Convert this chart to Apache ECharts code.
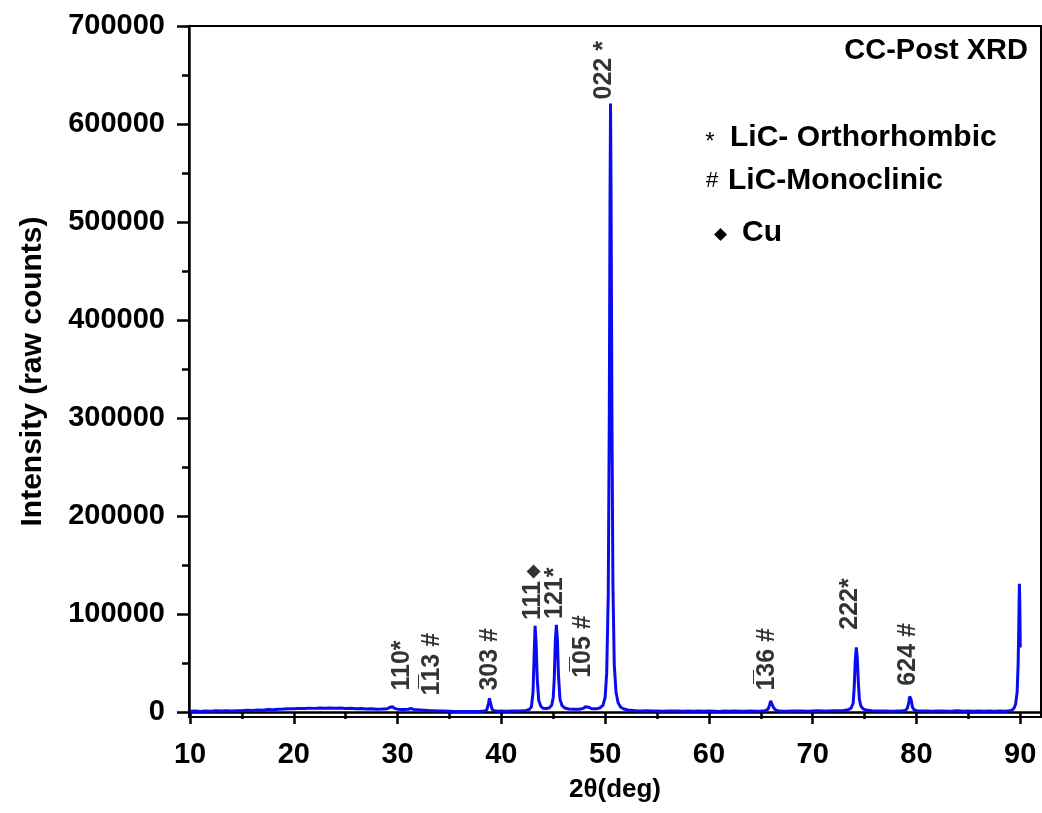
<!DOCTYPE html>
<html>
<head>
<meta charset="utf-8">
<script src="https://cdn.jsdelivr.net/npm/echarts@6/dist/echarts.min.js"></script>
<style>
html,body{margin:0;padding:0;background:#fff;}
#chart{width:1042px;height:813px;}
</style>
</head>
<body>
<div id="chart"></div>
<script>
// ---- data ----
const twoTheta = [
 10.0,10.5,11.0,11.5,12.0,12.5,13.0,13.5,14.0,14.5,15.0,15.5,16.0,16.5,17.0,17.5,18.0,18.5,19.0,19.5,
 20.0,20.5,21.0,21.5,22.0,22.5,23.0,23.5,24.0,24.5,25.0,25.5,26.0,26.5,27.0,27.5,28.0,28.5,29.0,29.3,
 29.5,29.7,30.0,30.5,31.0,31.3,31.6,32.0,32.5,33.0,33.5,34.0,34.5,35.0,35.5,36.0,36.5,37.0,37.5,38.0,
 38.4,38.6,38.75,38.85,38.95,39.1,39.3,39.7,40.0,40.5,41.0,41.5,42.0,42.4,42.7,42.9,43.05,43.15,43.25,43.35,
 43.45,43.6,43.8,44.0,44.3,44.6,44.85,45.0,45.1,45.2,45.3,45.4,45.5,45.65,45.85,46.1,46.5,47.0,47.5,47.9,
 48.1,48.25,48.4,48.7,49.1,49.5,49.8,50.0,50.15,50.3,50.4,50.47,50.52,50.57,50.65,50.75,50.88,51.05,51.25,51.5,
 51.8,52.2,52.7,53.0,53.5,54.0,54.5,55.0,55.5,56.0,56.5,57.0,57.5,58.0,58.5,59.0,59.5,60.0,60.5,61.0,
 61.5,62.0,62.5,63.0,63.5,64.0,64.5,65.0,65.4,65.7,65.85,65.95,66.05,66.2,66.4,66.7,67.0,67.5,68.0,68.5,
 69.0,69.5,70.0,70.5,71.0,71.5,72.0,72.5,73.0,73.4,73.7,73.9,74.0,74.1,74.2,74.3,74.4,74.5,74.65,74.9,
 75.3,75.7,76.0,76.5,77.0,77.5,78.0,78.5,78.9,79.1,79.25,79.35,79.42,79.5,79.6,79.75,80.0,80.5,81.0,81.5,
 82.0,82.5,83.0,83.5,84.0,84.5,85.0,85.5,86.0,86.5,87.0,87.5,88.0,88.5,89.0,89.2,89.4,89.55,89.7,89.8,
 89.87,89.92,89.96,90.0
];
const intensity = [
 800,1200,700,1100,900,1300,1000,1400,1200,1500,1300,1800,1600,2100,2000,2600,2500,3000,3100,3400,
 3300,3800,3700,4000,3800,4200,4000,4300,3900,4100,3700,3900,3500,3600,3200,3400,3000,3100,3400,5000,
 5600,3800,3000,2700,2900,3600,2600,2300,2000,1700,1500,1200,1000,800,600,700,500,700,600,800,
 1100,2500,8500,14000,9500,3000,1300,900,1000,800,1100,1000,1300,1700,2800,5500,20000,55000,88000,70000,
 35000,12000,6000,4000,3600,4200,7000,15000,35000,72000,89000,74000,38000,13000,6500,4200,3200,2800,3000,3800,
 5500,6800,5000,3400,3300,4200,7000,15000,40000,120000,300000,520000,621000,530000,310000,130000,48000,20000,9500,5000,
 3200,2200,1700,1400,1200,1300,1000,1200,900,1100,1000,1200,800,1000,900,1100,800,1000,900,700,
 1000,800,1100,900,800,1000,900,1100,1300,3000,7500,11500,10500,5000,2200,1200,1000,900,1100,1000,
 1200,900,1100,1300,1000,1200,1300,1400,1700,2300,4000,9000,25000,52000,66000,55000,30000,13000,6000,3000,
 1800,1400,1200,1000,1100,900,1000,1200,1600,3500,9000,16000,17500,12000,5500,2500,1400,1100,1000,900,
 1100,1000,800,1000,1300,900,1100,800,1000,900,1100,800,1000,900,1300,2000,4000,8000,20000,50000,
 95000,131000,110000,66000
];

const xMajorTicks = [10,20,30,40,50,60,70,80,90];
const xMinorTicks = [15,25,35,45,55,65,75,85];
const yMajorTicks = [0,100000,200000,300000,400000,500000,600000,700000];
const yMinorTicks = [50000,150000,250000,350000,450000,550000,650000];

// peak annotations: 2θ, intensity at label foot, label text ({d|◆} = small diamond)
const peakLabelX = [30.4, 33.3, 38.9, 43.1, 45.2, 47.9, 49.9, 65.6, 73.6, 79.2];
const peakLabelY = [22000, 17000, 22000, 94000, 95000, 35000, 625000, 22000, 84000, 27000];
const peakLabelText = ['110*', '1\u030513 #', '303 #', '111{d|\u25C6}', '121*', '1\u030505 #', '022 *', '1\u030536 #', '222*', '624 #'];

const chartTitle = 'CC-Post XRD';
const keySymbols = ['*', '#', '\u25C6'];
const keyLabels = ['LiC- Orthorhombic', 'LiC-Monoclinic', 'Cu'];

const xName = '2\u03B8(deg)';
const yName = 'Intensity (raw counts)';

// ---- chart ----
const FONT = '"Liberation Sans", Arial, Helvetica, sans-serif';
const chart = echarts.init(document.getElementById('chart'), null, {renderer: 'canvas'});

const lineData = twoTheta.map((x, i) => [x, intensity[i]]);
const labelData = peakLabelX.map((x, i) => [x, peakLabelY[i], peakLabelText[i]]);

const axisCommon = {
  type: 'value',
  splitLine: {show: false},
  axisLine: {show: true, lineStyle: {color: '#000', width: 2.5}},
};

const option = {
  animation: false,
  backgroundColor: '#fff',
  grid: {left: 189, right: 1, top: 26, bottom: 96, show: true, borderColor: '#000', borderWidth: 2, backgroundColor: 'transparent'},
  xAxis: [
    Object.assign({}, axisCommon, {
      min: 9.9, max: 92, position: 'bottom',
      axisTick: {show: true, inside: false, length: 12, customValues: xMajorTicks, lineStyle: {color: '#000', width: 2.5}},
      axisLabel: {show: true, customValues: xMajorTicks, margin: 23, color: '#000', fontSize: 29, fontWeight: 'bold', fontFamily: FONT,
                  formatter: v => String(v)},
      name: xName, nameLocation: 'middle', nameGap: 60,
      nameTextStyle: {color: '#000', fontSize: 26, fontWeight: 'bold', fontFamily: FONT}
    }),
    {
      type: 'value', min: 9.9, max: 92, position: 'bottom',
      splitLine: {show: false}, axisLine: {show: false},
      axisTick: {show: true, inside: false, length: 7, customValues: xMinorTicks, lineStyle: {color: '#000', width: 2.5}},
      axisLabel: {show: false}
    }
  ],
  yAxis: [
    Object.assign({}, axisCommon, {
      min: -5000, max: 700000, position: 'left',
      axisTick: {show: true, inside: false, length: 12, customValues: yMajorTicks, lineStyle: {color: '#000', width: 2.5}},
      axisLabel: {show: true, customValues: yMajorTicks, margin: 24, color: '#000', fontSize: 29, fontWeight: 'bold', fontFamily: FONT,
                  formatter: v => String(v)},
      name: yName, nameLocation: 'middle', nameGap: 141,
      nameTextStyle: {color: '#000', fontSize: 30, fontWeight: 'bold', fontFamily: FONT}
    }),
    {
      type: 'value', min: -5000, max: 700000, position: 'left',
      splitLine: {show: false}, axisLine: {show: false},
      axisTick: {show: true, inside: false, length: 7, customValues: yMinorTicks, lineStyle: {color: '#000', width: 2.5}},
      axisLabel: {show: false}
    }
  ],
  series: [
    {
      type: 'line', xAxisIndex: 0, yAxisIndex: 0,
      data: lineData, showSymbol: false, symbol: 'none',
      lineStyle: {color: '#0b0bf0', width: 3}, silent: true, z: 3
    },
    {
      type: 'scatter', xAxisIndex: 0, yAxisIndex: 0,
      data: labelData, symbolSize: 0, silent: true, z: 4,
      label: {
        show: true, position: 'inside', rotate: 90, align: 'left', verticalAlign: 'middle',
        formatter: p => p.data[2],
        color: '#000', fontSize: 25, fontWeight: 'bold', fontFamily: FONT,
        rich: {d: {fontSize: 17, color: '#000', fontFamily: FONT, padding: [0, 0, 0, 3]}}
      }
    }
  ],
  graphic: [
    {type: 'text', x: 1028, y: 51, style: {text: chartTitle, align: 'right', verticalAlign: 'middle', fill: '#000', font: 'bold 29px ' + FONT}},
    {type: 'text', x: 710, y: 142, style: {text: keySymbols[0], align: 'center', verticalAlign: 'middle', fill: '#000', font: '24px ' + FONT}},
    {type: 'text', x: 712, y: 181, style: {text: keySymbols[1], align: 'center', verticalAlign: 'middle', fill: '#000', font: '22px ' + FONT}},
    {type: 'text', x: 720, y: 234, style: {text: keySymbols[2], align: 'center', verticalAlign: 'middle', fill: '#000', font: '17px ' + FONT}},
    {type: 'text', x: 730, y: 138, style: {text: keyLabels[0], align: 'left', verticalAlign: 'middle', fill: '#000', font: 'bold 30px ' + FONT}},
    {type: 'text', x: 728, y: 181, style: {text: keyLabels[1], align: 'left', verticalAlign: 'middle', fill: '#000', font: 'bold 30px ' + FONT}},
    {type: 'text', x: 742, y: 233, style: {text: keyLabels[2], align: 'left', verticalAlign: 'middle', fill: '#000', font: 'bold 30px ' + FONT}}
  ]
};
chart.setOption(option);
</script>
</body>
</html>
